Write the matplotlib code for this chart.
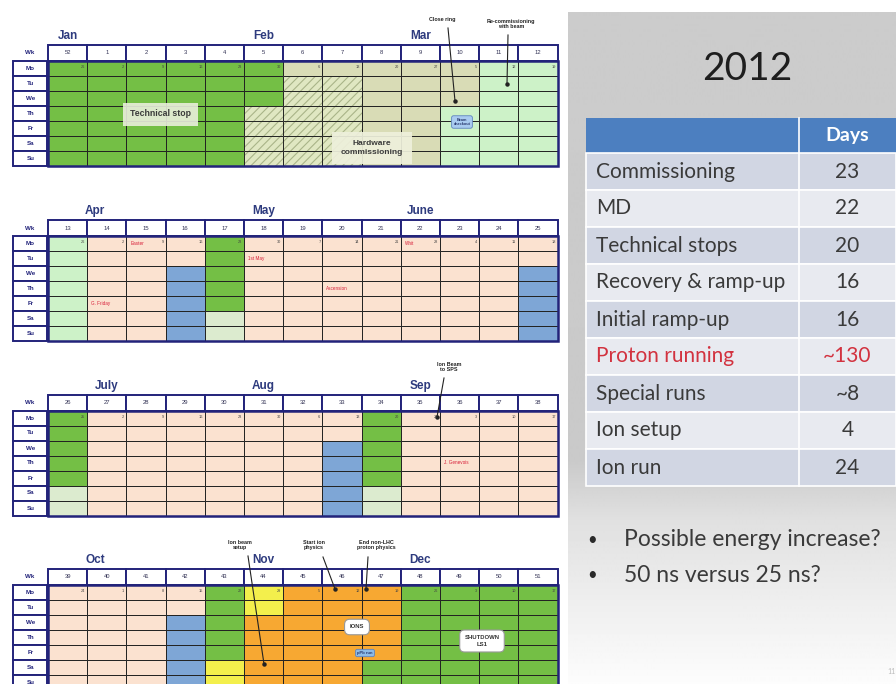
import numpy as np
import matplotlib.pyplot as plt
from matplotlib.patches import Rectangle

# ---------------- data ----------------
days = ["Mo", "Tu", "We", "Th", "Fr", "Sa", "Su"]

months = [["Jan", "Feb", "Mar"], ["Apr", "May", "June"],
          ["July", "Aug", "Sep"], ["Oct", "Nov", "Dec"]]
month_col = [[0.5, 5.5, 9.5], [1.2, 5.5, 9.5], [1.5, 5.5, 9.5], [1.2, 5.5, 9.5]]

weeks = [[52] + list(range(1, 13)), list(range(13, 26)),
         list(range(26, 39)), list(range(39, 52))]

mondays = [[26, 2, 9, 16, 23, 30, 6, 13, 20, 27, 5, 12, 19],
           [26, 2, 9, 16, 23, 30, 7, 14, 21, 28, 4, 11, 18],
           [25, 2, 9, 16, 23, 30, 6, 13, 20, 27, 3, 10, 17],
           [24, 1, 8, 15, 22, 29, 5, 12, 19, 26, 3, 10, 17]]

# G tech stop, H hatched commissioning, B hardware commissioning, L beam commissioning,
# P physics, M machine development, S recovery weekend, Y ion setup, O ions
cells = [
    ["GGGGGGBBBBBLL", "GGGGGGHHBBBLL", "GGGGGGHHBBBLL", "GGGGGHHHBBLLL",
     "GGGGGHHHBBLLL", "GGGGGHHHBBLLL", "GGGGGHHHBBLLL"],
    ["LPPPGPPPPPPPP", "LPPPGPPPPPPPP", "LPPMGPPPPPPPM", "LPPMGPPPPPPPM",
     "LPPMGPPPPPPPM", "LPPMSPPPPPPPM", "LPPMSPPPPPPPM"],
    ["GPPPPPPPGPPPP", "GPPPPPPPGPPPP", "GPPPPPPMGPPPP", "GPPPPPPMGPPPP",
     "GPPPPPPMGPPPP", "SPPPPPPMSPPPP", "SPPPPPPMSPPPP"],
    ["PPPPGYOOOGGGG", "PPPPGYOOOGGGG", "PPPMGOOOOGGGG", "PPPMGOOOOGGGG",
     "PPPMGOOOOGGGG", "PPPMYOOOGGGGG", "PPPMYOOOGGGGG"],
]

holidays = [(1, 2, 0, "Easter"), (1, 1, 4, "G. Friday"), (1, 5, 1, "1st May"),
            (1, 7, 3, "Ascension"), (1, 9, 0, "Whit"), (2, 10, 3, "J. Genevois")]

table_rows = ["Commissioning", "MD", "Technical stops", "Recovery & ramp-up",
              "Initial ramp-up", "Proton running", "Special runs", "Ion setup", "Ion run"]
table_days = ["23", "22", "20", "16", "16", "~130", "~8", "4", "24"]
bullets = ["Possible energy increase?", "50 ns versus 25 ns?"]

# ---------------- style ----------------
colors = {"G": "#74BF45", "H": "#E0E7C2", "B": "#D9DCB6", "L": "#CDF2C8",
          "P": "#FBE2D0", "M": "#7EA6D6", "S": "#DCEBCF", "Y": "#F3EF4C", "O": "#F7A832"}
navy = "#22237A"
cal_font = "Liberation Sans"
X0, CW, LX0 = 48, 39.2, 13
HDR_H, ROW_H = 16, 15
block_top = [45, 220, 394.5, 569]

fig = plt.figure(figsize=(8.96, 6.84), dpi=100)
ax = fig.add_axes([0, 0, 1, 1])
ax.set_xlim(0, 896)
ax.set_ylim(684, 0)
ax.axis("off")
plt.rcParams["hatch.linewidth"] = 0.8

# ---------------- calendar ----------------
for b in range(4):
    top = block_top[b]
    y0 = top + HDR_H
    for m, c in zip(months[b], month_col[b]):
        ax.text(X0 + c * CW, top - 9, m, ha="center", va="center", fontsize=8.5,
                fontweight="bold", color="#2E3B7E", family=cal_font)
    ax.text(30, top + HDR_H / 2, "Wk", ha="center", va="center", fontsize=4.5,
            fontweight="bold", color=navy, family=cal_font)
    for c, wk in enumerate(weeks[b]):
        ax.add_patch(Rectangle((X0 + c * CW, top), CW, HDR_H, fc="white", ec=navy, lw=1.4))
        ax.text(X0 + (c + 0.5) * CW, top + HDR_H / 2, str(wk), ha="center", va="center",
                fontsize=4.2, color="#333355", family=cal_font)
    for r in range(7):
        ax.add_patch(Rectangle((LX0, y0 + r * ROW_H), X0 - LX0 - 1, ROW_H,
                               fc="white", ec=navy, lw=1.4))
        ax.text((LX0 + X0) / 2, y0 + (r + 0.5) * ROW_H, days[r], ha="center", va="center",
                fontsize=4.5, fontweight="bold", color=navy, family=cal_font)
        for c in range(13):
            code = cells[b][r][c]
            x, y = X0 + c * CW, y0 + r * ROW_H
            if code == "H":
                ax.add_patch(Rectangle((x, y), CW, ROW_H, fc=colors["H"], ec="#A9B488",
                                       lw=0, hatch="////"))
                ax.add_patch(Rectangle((x, y), CW, ROW_H, fill=False, ec="#222222", lw=0.7))
            else:
                ax.add_patch(Rectangle((x, y), CW, ROW_H, fc=colors[code], ec="#222222", lw=0.7))
    for c, d in enumerate(mondays[b]):
        ax.text(X0 + (c + 1) * CW - 2, y0 + ROW_H * 0.4, str(d), ha="right", va="center",
                fontsize=2.8, color="#444444", family=cal_font)
    ax.add_patch(Rectangle((X0, y0), 13 * CW, 7 * ROW_H, fill=False, ec=navy, lw=1.8))

for b, c, r, txt in holidays:
    ax.text(X0 + c * CW + 4, block_top[b] + HDR_H + (r + 0.5) * ROW_H, txt, ha="left",
            va="center", fontsize=3.3, color="#D8203A", family=cal_font)

# overlay labels
ax.text(160, 114, "Technical stop", ha="center", va="center", fontsize=6.3, fontweight="bold",
        color="#3A3A3A", family=cal_font,
        bbox=dict(boxstyle="square,pad=0.8", fc="#E9EEDC", ec="none", alpha=0.9))
ax.text(372, 148, "Hardware\ncommissioning", ha="center", va="center", fontsize=6,
        fontweight="bold", color="#3A3A3A", family=cal_font, linespacing=1.3,
        bbox=dict(boxstyle="square,pad=1.0", fc="#EEF0DC", ec="none", alpha=0.92))
ax.text(462, 122, "Beam\ncheckout", ha="center", va="center", fontsize=2.8, fontweight="bold",
        color="#2A3A70", family=cal_font,
        bbox=dict(boxstyle="round,pad=0.5", fc="#A9CBF0", ec="#5E84BF", lw=0.6))
ax.text(357, 627, "IONS", ha="center", va="center", fontsize=4.2, fontweight="bold",
        color="#333333", family=cal_font,
        bbox=dict(boxstyle="round,pad=0.9", fc="white", ec="#999999", lw=0.8))
ax.text(365, 653, "pPb run", ha="center", va="center", fontsize=3, fontweight="bold",
        color="#2A3A70", family=cal_font,
        bbox=dict(boxstyle="round,pad=0.4", fc="#8CBBE8", ec="#5E84BF", lw=0.6))
ax.text(482, 641, "SHUTDOWN\nLS1", ha="center", va="center", fontsize=4.3, fontweight="bold",
        color="#333333", family=cal_font, linespacing=1.6,
        bbox=dict(boxstyle="round,pad=0.8", fc="white", ec="#999999", lw=0.8))

# call-outs: label, text position, line start, line end
callouts = [("Close ring", (442, 20), (448, 28), (455, 101)),
            ("Re-commissioning\nwith beam", (511, 24), (508, 35), (507, 84)),
            ("Ion Beam\nto SPS", (449, 367), (444, 378), (437, 417)),
            ("Ion beam\nsetup", (240, 545), (248, 556), (264, 664)),
            ("Start ion\nphysics", (314, 545), (323, 557), (335, 589)),
            ("End non-LHC\nproton physics", (376, 545), (368, 557), (366, 589))]
for txt, tp, p0, p1 in callouts:
    ax.text(tp[0], tp[1], txt, ha="center", va="center", fontsize=3.9, fontweight="bold",
            color="#222222", family=cal_font, linespacing=1.1)
    ax.plot([p0[0], p1[0]], [p0[1], p1[1]], color="#222222", lw=0.8)
    ax.plot(p1[0], p1[1], "o", color="#222222", ms=2.2)

# ---------------- right panel ----------------
ys = np.arange(12, 685)
shade = np.interp(ys, [12, 460, 520, 684], [0.80, 0.79, 0.88, 0.99])
ax.imshow(shade[:, None], cmap="gray", vmin=0, vmax=1, extent=[568, 896, 684, 12],
          aspect="auto", zorder=0)

ui = ["Lato", "DejaVu Sans"]
ax.text(747, 69, "2012", ha="center", va="center", fontsize=28, color="#1E1E1E", family=ui)

tx0, tdiv, hdr_top, hdr_h, row_h = 586, 799, 118, 35, 37
ax.add_patch(Rectangle((tx0, hdr_top), 896 - tx0, hdr_h, fc="#4C7FC0", ec="none"))
ax.text((tdiv + 896) / 2, hdr_top + hdr_h / 2, "Days", ha="center", va="center",
        fontsize=14, fontweight="bold", color="white", family=ui)
for i, (name, val) in enumerate(zip(table_rows, table_days)):
    y = hdr_top + hdr_h + i * row_h
    fc = "#D1D6E3" if i % 2 == 0 else "#E8EAF0"
    ax.add_patch(Rectangle((tx0, y), 896 - tx0, row_h, fc=fc, ec="white", lw=1.2))
    col = "#D2323F" if name == "Proton running" else "#3A3A3A"
    ax.text(tx0 + 10, y + row_h / 2, name, ha="left", va="center", fontsize=15,
            color=col, family=ui)
    ax.text((tdiv + 896) / 2, y + row_h / 2, val, ha="center", va="center", fontsize=15,
            color=col, family=ui)
ax.plot([tdiv, tdiv], [hdr_top, hdr_top + hdr_h + len(table_rows) * row_h], color="white", lw=1.2)

for i, txt in enumerate(bullets):
    ax.text(592, 540 + i * 35, "\u2022", ha="center", va="center", fontsize=12,
            color="#2A2A2A", family=ui)
    ax.text(624, 540 + i * 35, txt, ha="left", va="center", fontsize=16.5,
            color="#3A3A3A", family=ui)

ax.text(891, 672, "11", ha="center", va="center", fontsize=5, color="#BBBBBB", family=ui)

fig.savefig("out.png", dpi=100)
